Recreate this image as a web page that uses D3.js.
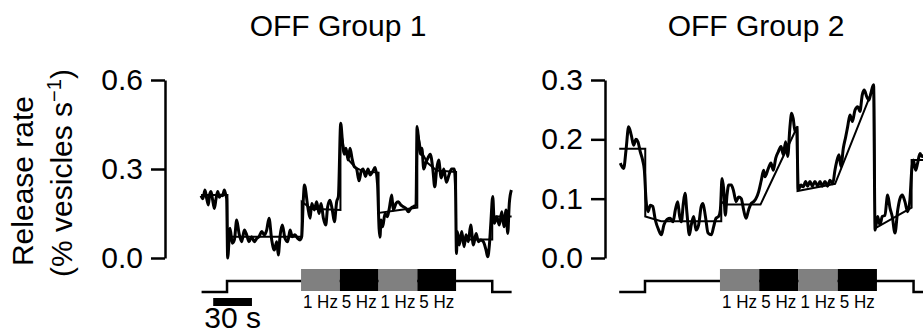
<!DOCTYPE html>
<html lang="en">
<head>
    <meta charset="UTF-8">
    <title>OFF Groups release rate</title>
    <script src="https://d3js.org/d3.v7.min.js"></script>
    <style>
        body { margin: 0; background: #fff; }
        svg text { font-family: "Liberation Sans", Arial, Helvetica, sans-serif; fill: #000; }
        .axis path, .axis line { stroke: #000; stroke-width: 2.5; }
        .axis text { font-size: 30px; }
    </style>
</head>
<body>
<div id="chart"></div>
<script>
    // time in s, release rate in % vesicles per s
    const trace1 = [[2.6,0.21],[4,0.2],[5.6,0.229],[7,0.2],[8.2,0.179],[9.3,0.215],[10.3,0.224],[11.6,0.195],[12.9,0.167],[14.2,0.2],[15.5,0.224],[16.8,0.205],[18,0.212],[19.3,0.21],[20.6,0.229],[21.6,0.215],[22.4,0.2],
        [23.2,0.0],[25,0.1],[26.8,0.05],[28.4,0.061],[30.2,0.128],[32,0.083],[34,0.055],[36.1,0.094],[37.9,0.078],[39.7,0.055],[41.8,0.072],[43.8,0.055],[45.7,0.066],[47.5,0.072],[49.5,0.089],[51.6,0.078],[53.4,0.094],[55.2,0.134],[57.3,0.061],[59.3,0.027],[61.2,0.055],[62.4,0.01],[63.7,0.072],[65.5,0.111],[67.6,0.066],[69.7,0.055],[71.5,0.094],[73.2,0.072],[75.3,0.078],[77.4,0.066],[79.2,0.061],[80.5,0.072],
        [81.8,0.2],[82.6,0.246],[85.2,0.173],[87,0.134],[88.3,0.184],[90.3,0.162],[92.1,0.19],[93.9,0.15],[95.5,0.184],[97.3,0.134],[99.1,0.111],[100.6,0.173],[102.4,0.195],[104.2,0.162],[105.8,0.122],[107.6,0.19],[108.9,0.207],
        [110.7,0.454],[112.1,0.39],[113.3,0.35],[114.8,0.37],[116.4,0.33],[117.9,0.37],[119.5,0.335],[121,0.31],[123,0.3],[124.9,0.26],[126.4,0.29],[128,0.3],[129.9,0.275],[131.8,0.3],[133.4,0.28],[135.3,0.29],[137.3,0.305],[139.2,0.25],[140.4,0.1],
        [141.1,0.07],[141.9,0.128],[143.2,0.105],[145,0.15],[146.8,0.139],[148.3,0.167],[150.2,0.212],[151.4,0.162],[153.5,0.184],[155.3,0.19],[157.2,0.179],[159.2,0.173],[161.3,0.167],[163.1,0.156],[164.9,0.167],[166.9,0.173],[169,0.179],
        [169.8,0.443],[171,0.4],[172.5,0.35],[173.5,0.37],[175,0.3],[176.5,0.32],[178,0.335],[180,0.35],[182,0.3],[183.5,0.24],[185,0.3],[186.5,0.33],[188.5,0.27],[190.5,0.3],[192.5,0.255],[194.5,0.28],[196.5,0.3],[198.5,0.3],[199.5,0.25],
        [200.3,0.015],[201,0.089],[202.5,0.044],[204.4,0.089],[206.2,0.038],[207.7,0.078],[209.5,0.055],[211.3,0.111],[213.4,0.044],[215.5,0.083],[217.3,0.055],[219.1,0.061],[221.1,0.055],[223.2,0.027],[224.5,0.004],[225.8,0.044],[226.9,0.117],[228.4,0.207],[229.6,0.117],[231.5,0.139],[233.5,0.111],[235.4,0.156],[237.1,0.105],[238.7,0.162],[240,0.083],[241.2,0.184],[242.8,0.229]];

    const fit1 = [[2.6,0.212],[23,0.212],[23,0.072],[80.5,0.072],[80.5,0.19],[88,0.166],[110.5,0.162],[110.5,0.44],[113,0.37],[117,0.33],[122,0.305],[128,0.292],[140,0.288],[140,0.152],[170,0.17],[170,0.43],[173,0.36],[178,0.32],[185,0.295],[200,0.29],[200,0.062],[228,0.062],[228,0.14],[243,0.14]];

    const trace2 = [[3.8,0.16],[6.4,0.151],[8.2,0.182],[10.2,0.221],[12.2,0.207],[14,0.19],[15.8,0.2],[17.3,0.196],[19.1,0.179],[20.9,0.165],[22.2,0.148],[23.5,0.098],[25,0.078],[26.8,0.089],[28.6,0.087],[30.6,0.064],[33.2,0.047],[35.2,0.039],[37.2,0.056],[39.5,0.065],[42,0.067],[44.1,0.061],[45.9,0.081],[47.7,0.095],[49.2,0.07],[50.5,0.061],[52,0.092],[53.3,0.109],[54.8,0.075],[56.6,0.039],[58.1,0.056],[59.9,0.07],[61.7,0.047],[63.7,0.056],[65.7,0.087],[67,0.092],[68.9,0.07],[70.9,0.042],[73.4,0.039],[75.2,0.053],[77,0.067],[79,0.07],[80.3,0.081],
        [81.6,0.134],[82.9,0.115],[84.1,0.072],[85.4,0.106],[86.7,0.123],[88.7,0.123],[90.5,0.112],[92.3,0.095],[94.3,0.103],[96.3,0.1],[98.1,0.081],[99.9,0.067],[101.9,0.081],[103.9,0.092],[105.8,0.095],[107.5,0.1],[109.6,0.112],
        [111.6,0.131],[113.4,0.148],[114.4,0.137],[117,0.151],[119,0.16],[120.8,0.148],[122.6,0.168],[124.6,0.179],[126.7,0.188],[128.4,0.174],[130.2,0.196],[131.8,0.171],[133.5,0.221],[134.8,0.244],[136,0.235],[137.4,0.213],[138.6,0.219],
        [139.9,0.115],[141.9,0.123],[143.7,0.12],[145.5,0.129],[147,0.121],[148.8,0.129],[150.6,0.121],[152.6,0.129],[154.7,0.121],[156.5,0.129],[158.2,0.121],[160.3,0.129],[162.3,0.121],[164.1,0.131],[166.2,0.125],
        [167.9,0.148],[169.2,0.162],[171,0.174],[172.5,0.154],[174.3,0.185],[176.1,0.204],[177.6,0.221],[179.4,0.241],[181.2,0.23],[183.2,0.249],[185.3,0.255],[187,0.247],[188.8,0.275],[190.3,0.283],[192.2,0.272],[193.9,0.266],[195.4,0.278],[197.4,0.292],
        [198.6,0.047],[200.5,0.07],[202.3,0.056],[204.1,0.07],[206.1,0.072],[208.2,0.106],[210,0.084],[211.7,0.07],[213.8,0.042],[215.9,0.081],[217.6,0.1],[219.4,0.106],[221.4,0.095],[223.5,0.078],[225.2,0.098],
        [226.6,0.148],[227.8,0.165],[229.6,0.148],[231.1,0.16],[232.9,0.176],[234.6,0.171],[236.5,0.175]];

    const fit2 = [[3,0.184],[22.9,0.184],[22.9,0.07],[35,0.062],[81,0.062],[81,0.095],[84,0.09],[111,0.09],[139.3,0.222],[139.3,0.113],[168,0.125],[197.8,0.29],[198.6,0.05],[226.5,0.085],[226.5,0.165],[240,0.165]];

    // stimulus: background light step, then flicker blocks
    const stimTimes = [3, 22.7, 228, 243];
    const stimLevels = [0, 1, 0, 0];
    const blockStarts = [80, 110, 140, 170];
    const blockLength = 30;
    const blockLabels = ["1 Hz", "5 Hz", "1 Hz", "5 Hz"];
    const blockColors = ["#808080", "#000", "#808080", "#000"];

    const ticks1 = [0, 0.3, 0.6];
    const ticks2 = [0, 0.1, 0.2, 0.3];
    const scaleBarSeconds = [12, 42];

    const W = 923, H = 335;
    const svg = d3.select("#chart").append("svg")
        .attr("width", W).attr("height", H);

    const panels = [
        { title: "OFF Group 1", titleX: 338, axisX: 165, xr: [197.7, 514.2], ymax: 0.6, ticks: ticks1, trace: trace1, fit: fit1 },
        { title: "OFF Group 2", titleX: 756, axisX: 605, xr: [615.3, 935.8], ymax: 0.3, ticks: ticks2, trace: trace2, fit: fit2 }
    ];

    const stimY = d3.scaleLinear().domain([0, 1]).range([292, 281]);

    panels.forEach((p, i) => {
        const x = d3.scaleLinear().domain([0, 245]).range(p.xr);
        const y = d3.scaleLinear().domain([0, p.ymax]).range([258, 80]);

        svg.append("text")
            .attr("x", p.titleX).attr("y", 36)
            .attr("text-anchor", "middle")
            .style("font-size", "30px")
            .text(p.title);

        svg.append("g")
            .attr("class", "axis")
            .attr("transform", `translate(${p.axisX},0)`)
            .call(d3.axisLeft(y).tickValues(p.ticks).tickFormat(d3.format(".1f"))
                .tickSize(14).tickSizeOuter(0).tickPadding(8))
            .call(g => g.selectAll("text").attr("fill", "#000"));

        // raw trace
        svg.append("path")
            .datum(p.trace)
            .attr("fill", "none")
            .attr("stroke", "#000")
            .attr("stroke-width", 3)
            .attr("stroke-linejoin", "round")
            .attr("d", d3.line().x(d => x(d[0])).y(d => y(d[1])).curve(d3.curveMonotoneX));

        // model fit
        svg.append("path")
            .datum(p.fit)
            .attr("fill", "none")
            .attr("stroke", "#000")
            .attr("stroke-width", 2)
            .attr("d", d3.line().x(d => x(d[0])).y(d => y(d[1])));

        // stimulus trace
        svg.append("path")
            .datum(stimTimes.map((t, k) => [t, stimLevels[k]]))
            .attr("fill", "none")
            .attr("stroke", "#000")
            .attr("stroke-width", 2.5)
            .attr("d", d3.line().x(d => x(d[0])).y(d => stimY(d[1])).curve(d3.curveStepAfter));

        svg.selectAll(null)
            .data(blockStarts)
            .join("rect")
            .attr("x", d => x(d))
            .attr("y", 269)
            .attr("width", d => x(d + blockLength) - x(d))
            .attr("height", 22)
            .attr("fill", (d, k) => blockColors[k]);

        svg.selectAll(null)
            .data(blockStarts)
            .join("text")
            .attr("x", d => x(d + blockLength / 2))
            .attr("y", 308)
            .attr("text-anchor", "middle")
            .attr("textLength", 35)
            .attr("lengthAdjust", "spacingAndGlyphs")
            .style("font-size", "19px")
            .text((d, k) => blockLabels[k]);

        if (i === 0) {
            svg.append("rect")
                .attr("x", x(scaleBarSeconds[0]))
                .attr("y", 298)
                .attr("width", x(scaleBarSeconds[1]) - x(scaleBarSeconds[0]))
                .attr("height", 8)
                .attr("fill", "#000");
            svg.append("text")
                .attr("x", (x(scaleBarSeconds[0]) + x(scaleBarSeconds[1])) / 2)
                .attr("y", 328)
                .attr("text-anchor", "middle")
                .style("font-size", "30px")
                .text("30 s");
        }
    });

    // y label
    svg.append("text")
        .attr("transform", "translate(33,181) rotate(-90)")
        .attr("text-anchor", "middle")
        .style("font-size", "30px")
        .text("Release rate");
    const yl = svg.append("text")
        .attr("transform", "translate(72,173) rotate(-90)")
        .attr("text-anchor", "middle")
        .style("font-size", "30px");
    yl.append("tspan").text("(% vesicles s");
    yl.append("tspan").attr("dy", -11).style("font-size", "20px").text("\u22121");
    yl.append("tspan").attr("dy", 11).text(")");
</script>
</body>
</html>
